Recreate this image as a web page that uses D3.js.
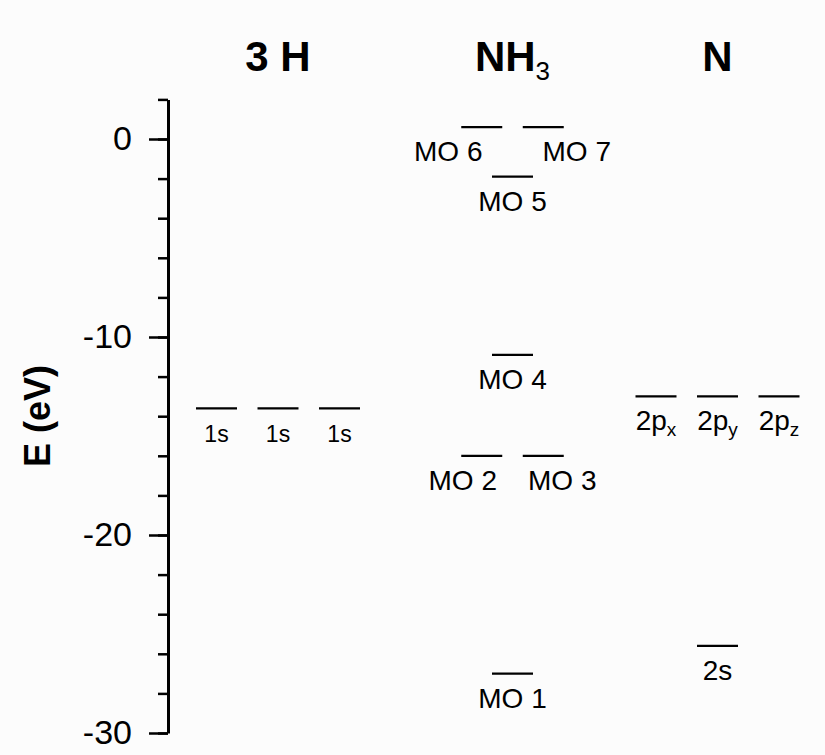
<!DOCTYPE html>
<html>
<head>
<meta charset="utf-8">
<script src="https://cdn.jsdelivr.net/npm/d3@7"></script>
<style>
  body { margin: 0; background: #fcfcfc; }
  svg { display: block; font-family: "Liberation Sans", Arial, sans-serif; }
</style>
</head>
<body>
<div id="chart"></div>
<script>
// energy level data (eV)
const columns = ["3 H", "NH3", "N"]
const levelColumns = ["3 H", "3 H", "3 H", "NH3", "NH3", "NH3", "NH3", "NH3", "NH3", "NH3", "N", "N", "N", "N"]
const levelLabels = ["1s", "1s", "1s", "MO 1", "MO 2", "MO 3", "MO 4", "MO 5", "MO 6", "MO 7", "2s", "2px", "2py", "2pz"]
const levelEnergies = [-13.6, -13.6, -13.6, -27.0, -16.0, -16.0, -10.9, -1.9, 0.6, 0.6, -25.6, -13.0, -13.0, -13.0]
// which of the degenerate slots a level sits in (-2..2)
const levelSlots = [-2, 0, 2, 0, -1, 1, 0, 0, -1, 1, 0, -2, 0, 2]
const majorTicks = [-30, -20, -10, 0]
const minorTicks = d3.range(-30, 3, 2)

const width = 825, height = 755

const svg = d3.select("#chart")
    .append("svg")
    .attr("width", width)
    .attr("height", height)

svg.append("rect")
    .attr("width", width)
    .attr("height", height)
    .attr("fill", "#fcfcfc")

// scales
const y = d3.scaleLinear()
    .domain([-30, 2])
    .range([733, 99.4])

const colX = d3.scaleOrdinal()
    .domain(columns)
    .range([278, 512.5, 717.5])

const slotX = d3.scaleLinear()
    .domain([-2, 2])
    .range([-61.5, 61.5])

const levelW = 41

// small shifts for labels that would collide
const labelDx = { "MO 6": -33.5, "MO 7": 33.5, "MO 2": -19, "MO 3": 19 }

// axis
const axisX = 168
const minorAxis = d3.axisLeft(y)
    .tickValues(minorTicks)
    .tickSize(10)
    .tickSizeOuter(0)
    .tickFormat("")

const majorAxis = d3.axisLeft(y)
    .tickValues(majorTicks)
    .tickSize(19)
    .tickSizeOuter(0)
    .tickPadding(17)
    .tickFormat(d => String(d))

const gMinor = svg.append("g")
    .attr("transform", "translate(" + axisX + ",0)")
    .call(minorAxis)
gMinor.select(".domain").remove()
gMinor.selectAll("line").attr("stroke", "#000").attr("stroke-width", 2.5)

const gMajor = svg.append("g")
    .attr("transform", "translate(" + axisX + ",0)")
    .call(majorAxis)
gMajor.select(".domain").attr("stroke", "#000").attr("stroke-width", 3)
gMajor.selectAll("line").attr("stroke", "#000").attr("stroke-width", 2.5)
gMajor.selectAll("text")
    .attr("font-size", 34)
    .attr("font-family", "\"Liberation Sans\", Arial, sans-serif")
    .attr("fill", "#000")

// y label
svg.append("text")
    .attr("transform", "translate(50,416) rotate(-90)")
    .attr("text-anchor", "middle")
    .attr("font-size", 36)
    .attr("font-weight", "bold")
    .text("E (eV)")

// column titles
const titles = svg.selectAll("text.title")
    .data(columns)
    .enter().append("text")
    .attr("class", "title")
    .attr("x", d => colX(d))
    .attr("y", 71)
    .attr("text-anchor", "middle")
    .attr("font-size", 42)
    .attr("font-weight", "bold")
titles.each(function (d) {
    const t = d3.select(this)
    if (d === "NH3") {
        t.append("tspan").text("NH")
        t.append("tspan").attr("font-size", 26).attr("font-weight", "normal").attr("dy", 9).text("3")
    } else {
        t.text(d)
    }
})

// levels
const levels = levelLabels.map((label, i) => ({
    label: label,
    column: levelColumns[i],
    energy: levelEnergies[i],
    slot: levelSlots[i]
}))

const cx = d => colX(d.column) + slotX(d.slot)

svg.selectAll("line.level")
    .data(levels)
    .enter().append("line")
    .attr("class", "level")
    .attr("x1", d => cx(d) - levelW / 2)
    .attr("x2", d => cx(d) + levelW / 2)
    .attr("y1", d => y(d.energy))
    .attr("y2", d => y(d.energy))
    .attr("stroke", "#000")
    .attr("stroke-width", 2.3)

const labels = svg.selectAll("text.level")
    .data(levels)
    .enter().append("text")
    .attr("class", "level")
    .attr("x", d => cx(d) + (labelDx[d.label] || 0))
    .attr("y", d => y(d.energy) + 34)
    .attr("text-anchor", "middle")
    .attr("font-size", d => d.label === "1s" ? 23 : 28)
labels.each(function (d) {
    const t = d3.select(this)
    if (d.label.startsWith("2p")) {
        t.append("tspan").text("2p")
        t.append("tspan").attr("font-size", 19).attr("dy", 6).text(d.label.slice(2))
    } else {
        t.text(d.label)
    }
})
</script>
</body>
</html>
